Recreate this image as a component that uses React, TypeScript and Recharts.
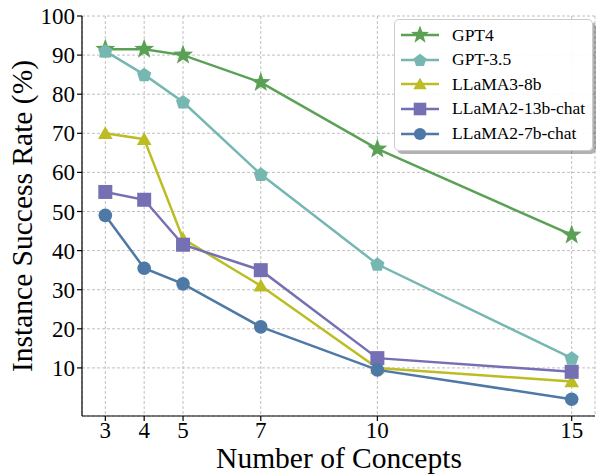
import { LineChart, Line, XAxis, YAxis, CartesianGrid } from 'recharts'

const concepts = [3, 4, 5, 7, 10, 15]
const gpt4 = [91.5, 91.5, 90, 83, 66, 44]
const gpt35 = [91, 85, 78, 59.5, 36.5, 12.5]
const llama3 = [70, 68.5, 43, 31, 10, 6.5]
const llama13 = [55, 53, 41.5, 35, 12.5, 9]
const llama7 = [49, 35.5, 31.5, 20.5, 9.5, 2]
const yTicks = [10, 20, 30, 40, 50, 60, 70, 80, 90, 100]

const series = [
  { key: 'gpt4', name: 'GPT4', values: gpt4, color: '#5aa155', shape: 'star' },
  { key: 'gpt35', name: 'GPT-3.5', values: gpt35, color: '#76b7b2', shape: 'pentagon' },
  { key: 'llama3', name: 'LLaMA3-8b', values: llama3, color: '#bcbd22', shape: 'triangle' },
  { key: 'llama13', name: 'LLaMA2-13b-chat', values: llama13, color: '#7570b3', shape: 'square' },
  { key: 'llama7', name: 'LLaMA2-7b-chat', values: llama7, color: '#4e79a7', shape: 'circle' },
]

const data = concepts.map((c, i) => {
  const row: Record<string, number> = { n: c }
  series.forEach((s) => (row[s.key] = s.values[i]))
  return row
})

const font = '"Liberation Serif", "Times New Roman", serif'
const textStyle = { fontFamily: font }

function polygon(cx: number, cy: number, count: number, rOuter: number, rInner?: number) {
  const pts: string[] = []
  const n = rInner ? count * 2 : count
  for (let i = 0; i < n; i++) {
    const a = -Math.PI / 2 + (i * 2 * Math.PI) / n
    const r = rInner && i % 2 === 1 ? rInner : rOuter
    pts.push(`${cx + r * Math.cos(a)},${cy + r * Math.sin(a)}`)
  }
  return pts.join(' ')
}

function Marker({ shape, cx, cy, color, s = 1 }: any) {
  if (cx == null || cy == null) return null
  switch (shape) {
    case 'star':
      return <polygon points={polygon(cx, cy, 5, 10.5 * s, 4.3 * s)} fill={color} />
    case 'pentagon':
      return <polygon points={polygon(cx, cy + 0.5, 5, 7.5 * s)} fill={color} />
    case 'triangle':
      return <polygon points={polygon(cx, cy + 1.5 * s, 3, 8.5 * s)} fill={color} />
    case 'square':
      return <rect x={cx - 7 * s} y={cy - 7 * s} width={14 * s} height={14 * s} fill={color} />
    default:
      return <circle cx={cx} cy={cy} r={6.8 * s} fill={color} />
  }
}

function LegendBox() {
  return (
    <div
      style={{
        position: 'absolute',
        left: 394,
        top: 19,
        width: 199,
        height: 132,
        border: '1px solid #cccccc',
        borderRadius: 5,
        background: 'rgba(255,255,255,0.9)',
        boxShadow: '3px 3px 0 rgba(0,0,0,0.3)',
        fontFamily: font,
        fontSize: 17.5,
        boxSizing: 'border-box',
        paddingTop: 3,
      }}
    >
      {series.map((s) => (
        <div key={s.key} style={{ height: 24.6, display: 'flex', alignItems: 'center' }}>
          <svg width={50} height={24} style={{ marginLeft: 4, flex: 'none' }}>
            <line x1={2} x2={40} y1={12} y2={12} stroke={s.color} strokeWidth={2.5} />
            <Marker shape={s.shape} cx={21} cy={12} color={s.color} s={0.9} />
          </svg>
          <span style={{ marginLeft: 3, lineHeight: 1 }}>{s.name}</span>
        </div>
      ))}
    </div>
  )
}

export default function App() {
  return (
    <div style={{ position: 'absolute', left: 0, top: 0, width: 598, height: 475, background: '#fff' }}>
      <LineChart width={598} height={475} data={data} margin={{ top: 16, right: 3, left: 0, bottom: 0 }}>
        <CartesianGrid stroke="#b0b0b0" strokeDasharray="3 2" strokeWidth={0.8} />
        <XAxis
          dataKey="n"
          type="number"
          domain={[2.4, 15.6]}
          ticks={concepts}
          allowDataOverflow
          height={59}
          stroke="#000"
          strokeWidth={1.2}
          tickSize={5}
          tick={(p: any) => (
            <text x={p.x} y={438} textAnchor="middle" style={textStyle} fontSize={23} fill="#000">
              {p.payload.value}
            </text>
          )}
          label={() => (
            <text x={339} y={468} textAnchor="middle" style={textStyle} fontSize={29.5} fill="#000">
              Number of Concepts
            </text>
          )}
        />
        <XAxis
          xAxisId="top"
          dataKey="n"
          type="number"
          orientation="top"
          domain={[2.4, 15.6]}
          height={0}
          tick={false}
          tickLine={false}
          stroke="#000"
          strokeWidth={1.2}
        />
        <YAxis
          type="number"
          domain={[-2.3, 100]}
          ticks={yTicks}
          allowDataOverflow
          width={82}
          stroke="#000"
          strokeWidth={1.2}
          tickSize={5}
          tick={(p: any) => (
            <text x={75} y={p.y} dy="0.35em" textAnchor="end" style={textStyle} fontSize={23} fill="#000">
              {p.payload.value}
            </text>
          )}
          label={() => (
            <text
              x={32}
              y={216}
              textAnchor="middle"
              style={textStyle}
              fontSize={29.5}
              fill="#000"
              transform="rotate(-90 32 216)"
            >
              Instance Success Rate (%)
            </text>
          )}
        />
        <YAxis
          yAxisId="right"
          orientation="right"
          type="number"
          domain={[-2.3, 100]}
          width={0}
          tick={false}
          tickLine={false}
          stroke="#000"
          strokeWidth={1.2}
        />
        {series.map((s) => (
          <Line
            key={s.key}
            dataKey={s.key}
            name={s.name}
            stroke={s.color}
            strokeWidth={2.5}
            isAnimationActive={false}
            dot={(p: any) => (
              <Marker key={`${s.key}-${p.index}`} shape={s.shape} cx={p.cx} cy={p.cy} color={s.color} />
            )}
            activeDot={false}
          />
        ))}
      </LineChart>
      <LegendBox />
    </div>
  )
}
